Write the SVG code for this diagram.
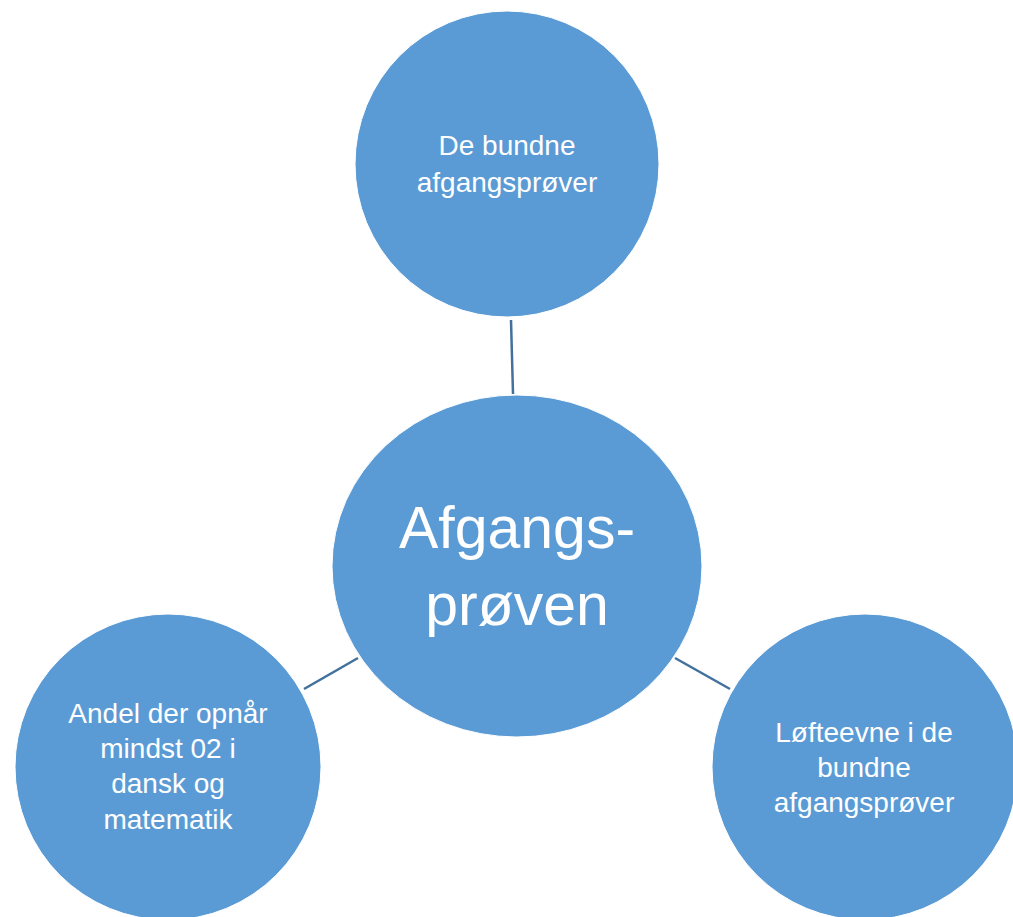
<svg xmlns="http://www.w3.org/2000/svg" width="1013" height="917" viewBox="0 0 1013 917">
<style>
.node{fill:#5B9BD5;stroke:#ffffff;stroke-width:1}
.lbl{font-family:"Liberation Sans",Arial,sans-serif;font-size:28px;fill:#ffffff;text-anchor:middle}
.big{font-family:"Liberation Sans",Arial,sans-serif;font-size:59px;fill:#ffffff;text-anchor:middle}
.conn{stroke:#41719C;stroke-width:2.5;fill:none}
</style>
<rect width="1013" height="917" fill="#ffffff"/>
<g id="connectors">
<line class="conn" x1="511" y1="320" x2="513" y2="394"/>
<line class="conn" x1="304" y1="689" x2="358" y2="658"/>
<line class="conn" x1="675" y1="658" x2="730" y2="689"/>
</g>
<g id="node-top">
<ellipse class="node" cx="507" cy="164" rx="152" ry="153"/>
<text class="lbl" x="507" y="155">De bundne</text>
<text class="lbl" x="507" y="192">afgangsprøver</text>
</g>
<g id="node-center">
<ellipse class="node" cx="517" cy="566" rx="185" ry="171"/>
<text class="big" x="517" y="548">Afgangs-</text>
<text class="big" x="517" y="625">prøven</text>
</g>
<g id="node-left">
<circle class="node" cx="168" cy="767" r="153"/>
<text class="lbl" x="168" y="723">Andel der opnår</text>
<text class="lbl" x="168" y="758">mindst 02 i</text>
<text class="lbl" x="168" y="793">dansk og</text>
<text class="lbl" x="168" y="829">matematik</text>
</g>
<g id="node-right">
<circle class="node" cx="865" cy="767" r="153"/>
<text class="lbl" x="864" y="742">Løfteevne i de</text>
<text class="lbl" x="864" y="777">bundne</text>
<text class="lbl" x="864" y="812">afgangsprøver</text>
</g>
</svg>
